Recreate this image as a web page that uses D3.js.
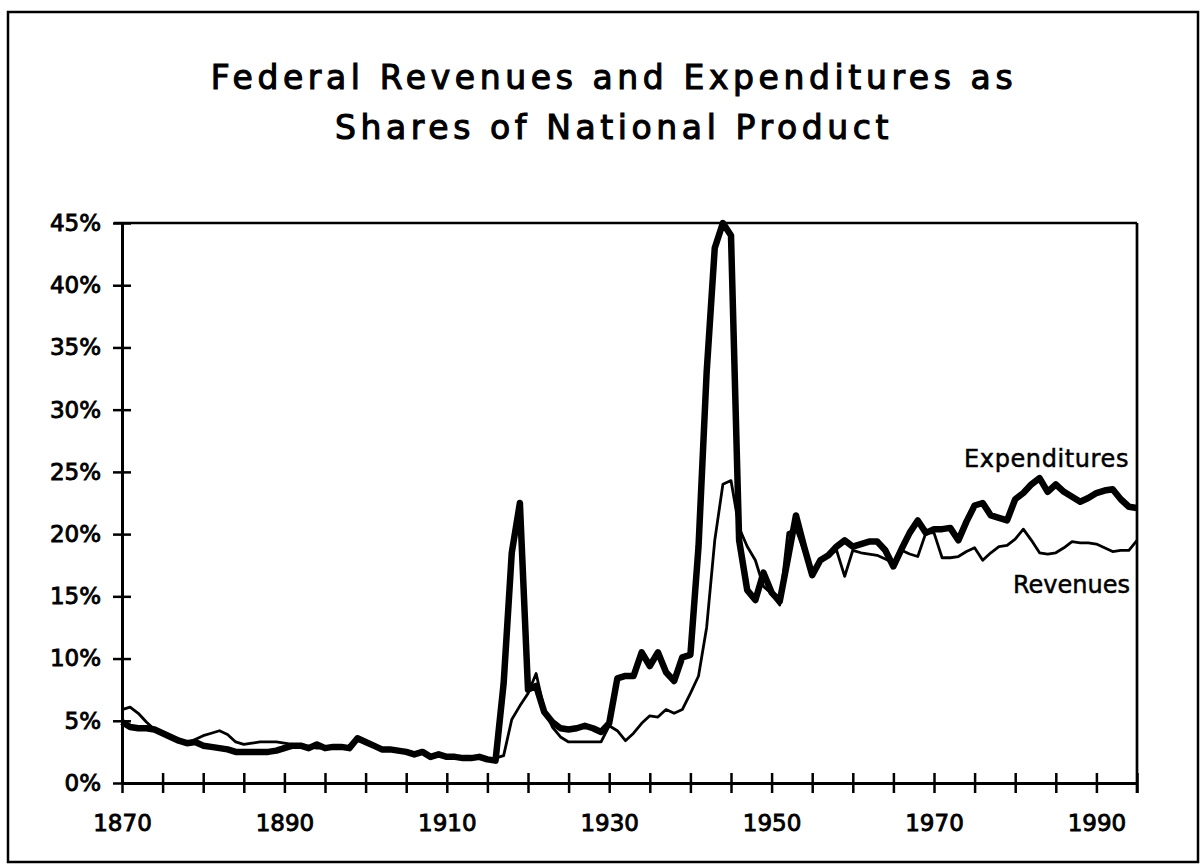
<!DOCTYPE html>
<html>
<head>
<meta charset="utf-8">
<script src="https://cdn.jsdelivr.net/npm/d3@7"></script>
<style>
  body { margin: 0; background: #fff; }
  text { font-family: "DejaVu Sans", sans-serif; fill: #000; }
</style>
</head>
<body>
<div id="chart"></div>
<script>
// years 1870..1995, one value per year
const years = d3.range(1870, 1996);

// federal expenditures, % of national product
const expenditures = [
  4.9, 4.5, 4.4, 4.4, 4.3, 4.0, 3.7, 3.4, 3.2, 3.3,     // 1870s
  3.0, 2.9, 2.8, 2.7, 2.5, 2.5, 2.5, 2.5, 2.5, 2.6,     // 1880s
  2.8, 3.0, 3.0, 2.8, 3.1, 2.8, 2.9, 2.9, 2.8, 3.6,     // 1890s
  3.3, 3.0, 2.7, 2.7, 2.6, 2.5, 2.3, 2.5, 2.1, 2.3,     // 1900s
  2.1, 2.1, 2.0, 2.0, 2.1, 1.9, 1.8, 8.0, 18.5, 22.5,   // 1910s
  7.5, 7.8, 5.7, 4.9, 4.4, 4.3, 4.4, 4.6, 4.4, 4.1,     // 1920s
  4.8, 8.4, 8.6, 8.6, 10.5, 9.4, 10.5, 8.9, 8.2, 10.1,  // 1930s
  10.3, 19.0, 33.0, 43.0, 45.0, 44.0, 19.5, 15.5, 14.7, 16.9, // 1940s
  15.3, 14.6, 18.0, 21.5, 19.0, 16.7, 17.9, 18.3, 19.0, 19.5, // 1950s
  19.0, 19.2, 19.4, 19.4, 18.7, 17.4, 18.8, 20.1, 21.1, 20.1, // 1960s
  20.4, 20.4, 20.5, 19.5, 21.0, 22.3, 22.5, 21.5, 21.3, 21.1, // 1970s
  22.8, 23.3, 24.0, 24.5, 23.4, 24.0, 23.4, 23.0, 22.6, 22.9, // 1980s
  23.3, 23.5, 23.6, 22.8, 22.2, 22.1                          // 1990-95
];

// federal revenues, % of national product
const revenues = [
  5.9, 6.1, 5.6, 4.9, 4.3, 4.1, 3.8, 3.4, 3.2, 3.5,
  3.8, 4.0, 4.2, 3.9, 3.3, 3.1, 3.2, 3.3, 3.3, 3.3,
  3.2, 3.1, 3.0, 2.9, 2.8, 2.8, 2.8, 2.8, 2.8, 3.4,
  3.3, 3.1, 2.8, 2.7, 2.6, 2.5, 2.4, 2.5, 2.2, 2.2,
  2.1, 2.1, 2.1, 2.0, 2.0, 1.9, 2.0, 2.2, 5.1, 6.2,
  7.2, 8.8, 5.9, 4.5, 3.7, 3.3, 3.3, 3.3, 3.3, 3.3,
  4.6, 4.2, 3.4, 4.0, 4.8, 5.4, 5.3, 5.9, 5.6, 5.9,
  7.2, 8.6, 12.5, 19.5, 24.0, 24.3, 20.5, 19.0, 17.9, 15.8,
  15.2, 14.3, 20.1, 20.4, 18.6, 17.0, 17.9, 18.3, 18.7, 16.6,
  18.7, 18.5, 18.4, 18.3, 18.0, 17.7, 18.7, 18.4, 18.2, 20.1,
  20.1, 18.1, 18.1, 18.2, 18.6, 18.9, 17.9, 18.5, 19.0, 19.1,
  19.6, 20.4, 19.5, 18.5, 18.4, 18.5, 18.9, 19.4, 19.3, 19.3,
  19.2, 18.9, 18.6, 18.7, 18.7, 19.5
];

const yTicks = [0, 5, 10, 15, 20, 25, 30, 35, 40, 45];
const xTicks = d3.range(1870, 1996, 5);
const xLabels = [1870, 1890, 1910, 1930, 1950, 1970, 1990];
const titleLines = ["Federal Revenues and Expenditures as", "Shares of National Product"];

const W = 1202, H = 867;
const svg = d3.select("#chart").append("svg")
    .attr("width", W).attr("height", H);

svg.append("rect").attr("width", W).attr("height", H).attr("fill", "#fff");

// outer frame
svg.append("rect")
    .attr("x", 8).attr("y", 12).attr("width", 1190).attr("height", 850)
    .attr("fill", "none").attr("stroke", "#000").attr("stroke-width", 2.5);

// title
svg.selectAll("text.title").data(titleLines).enter()
    .append("text")
    .attr("class", "title")
    .attr("x", 614)
    .attr("y", (d, i) => 89 + i * 50)
    .attr("text-anchor", "middle")
    .style("font-size", "33px")
    .style("letter-spacing", "4.6px")
    .attr("stroke", "#000").attr("stroke-width", 1.1)
    .text(d => d);

let x = d3.scaleLinear().domain([1870, 1995]).range([122, 1137]);
let y = d3.scaleLinear().domain([0, 45]).range([783, 223]);

// plot box top and right edges
svg.append("line")
    .attr("x1", x(1870) - 8).attr("x2", x(1995))
    .attr("y1", y(45)).attr("y2", y(45))
    .attr("stroke", "#000").attr("stroke-width", 2.7);
svg.append("line")
    .attr("x1", x(1995)).attr("x2", x(1995))
    .attr("y1", y(45)).attr("y2", y(0) + 10)
    .attr("stroke", "#000").attr("stroke-width", 2.7);

// y axis
let yAxis = svg.append("g")
    .attr("transform", `translate(${x(1870)},0)`)
    .call(d3.axisLeft(y).tickValues(yTicks).tickSizeOuter(0).tickFormat(d => d + "%"));
yAxis.select(".domain").attr("stroke-width", 3);
yAxis.selectAll(".tick line").attr("x1", -9).attr("x2", 9).attr("stroke-width", 2.5);
yAxis.selectAll(".tick text")
    .attr("x", -21).attr("dy", "0.32em")
    .style("font-size", "23px").style("font-family", "DejaVu Sans")
    .attr("fill", "#000").attr("stroke", "#000").attr("stroke-width", 0.9);

// x axis
let xAxis = svg.append("g")
    .attr("transform", `translate(0,${y(0)})`)
    .call(d3.axisBottom(x).tickValues(xTicks).tickSizeOuter(0)
        .tickFormat(d => xLabels.includes(d) ? d : ""));
xAxis.select(".domain").attr("stroke-width", 3);
xAxis.selectAll(".tick line").attr("y1", -10).attr("y2", 10).attr("stroke-width", 2.5);
xAxis.selectAll(".tick text")
    .attr("y", 48).attr("dy", 0)
    .style("font-size", "23px").style("font-family", "DejaVu Sans")
    .attr("fill", "#000").attr("stroke", "#000").attr("stroke-width", 0.9);

// lines
let line = d3.line()
    .x(d => x(d[0]))
    .y(d => y(d[1]));

svg.append("path")
    .datum(years.map((yr, i) => [yr, revenues[i]]))
    .attr("d", line)
    .attr("fill", "none").attr("stroke", "#000")
    .attr("stroke-width", 2.8).attr("stroke-linejoin", "round");

svg.append("path")
    .datum(years.map((yr, i) => [yr, expenditures[i]]))
    .attr("d", line)
    .attr("fill", "none").attr("stroke", "#000")
    .attr("stroke-width", 6.5).attr("stroke-linejoin", "round");

// series labels
svg.append("text")
    .attr("x", 1129).attr("y", 467)
    .attr("text-anchor", "end")
    .style("font-size", "24px").style("letter-spacing", "0.6px")
    .attr("stroke", "#000").attr("stroke-width", 0.5)
    .text("Expenditures");

svg.append("text")
    .attr("x", 1130).attr("y", 593)
    .attr("text-anchor", "end")
    .style("font-size", "24px")
    .attr("stroke", "#000").attr("stroke-width", 0.5)
    .text("Revenues");
</script>
</body>
</html>
